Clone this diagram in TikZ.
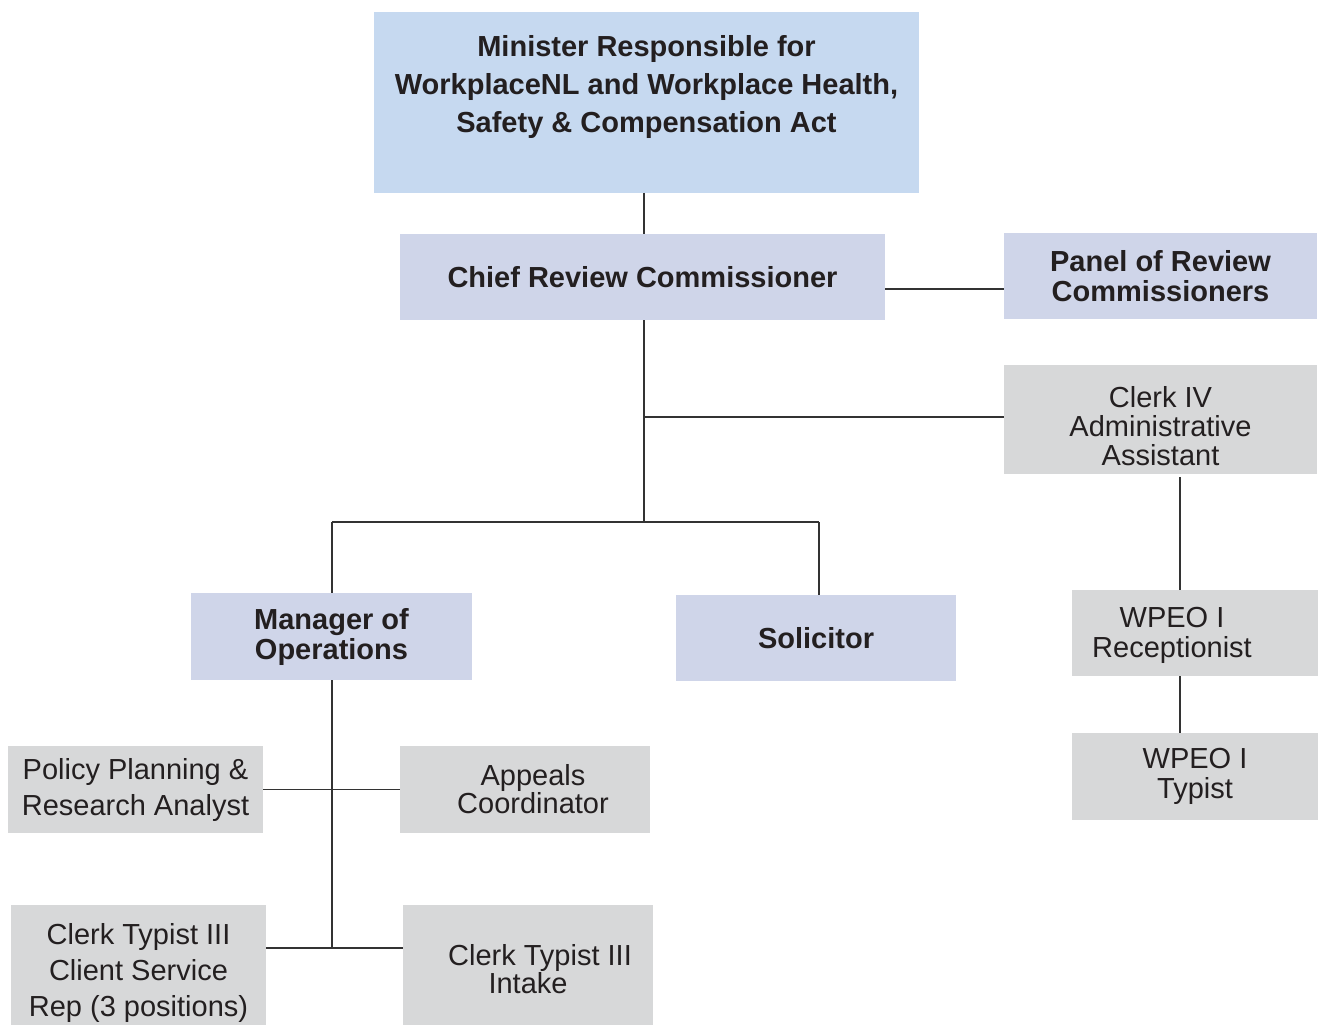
\documentclass[tikz,border=0pt]{standalone}
\usepackage{fontspec}
\setmainfont{Liberation Sans}
\usetikzlibrary{positioning}
\definecolor{minblue}{HTML}{C6D9F0}
\definecolor{lav}{HTML}{CFD5E9}
\definecolor{gry}{HTML}{D7D8D9}
\definecolor{ink}{HTML}{231F20}

\begin{document}
\begin{tikzpicture}[x=1pt,y=-1pt,text=ink,
  box/.style={inner sep=0pt,outer sep=0pt,align=center,font=\fontsize{29}{30}\selectfont},
  b/.style={box,fill=lav,font=\fontsize{29}{30}\selectfont\bfseries},
  g/.style={box,fill=gry},
  ln/.style={draw=black!80,line width=1.1pt}]
\useasboundingbox (0,0) rectangle (1319,1027);

% top of the chart
\node[box,fill=minblue,minimum width=545,minimum height=181,
  label={[align=center,yshift=15pt,font=\fontsize{29}{38}\selectfont\bfseries]center:Minister Responsible for\\WorkplaceNL and Workplace Health,\\Safety \& Compensation Act}]
  (min) at (646.5,102.5) {};
\node[b,minimum width=485,minimum height=86] (chief) at (642.5,277) {Chief Review Commissioner};
\node[b,minimum width=313,minimum height=86] (panel) at (1160.5,276) {Panel of Review\\Commissioners};

% right column
\node[g,minimum width=313,minimum height=109,
  label={[align=center,yshift=-7pt,font=\fontsize{29}{29}\selectfont]center:Clerk IV\\Administrative\\Assistant}]
  (clerk) at (1160.5,419.5) {};
\node[g,minimum width=246,minimum height=86,
  label={[align=center,xshift=-23pt,yshift=-2pt,font=\fontsize{29}{30}\selectfont]center:WPEO I\\Receptionist}]
  (recept) at (1195,633) {};
\node[g,minimum width=246,minimum height=87] (typist) at (1195,776.5) {WPEO I\\Typist};

% second level
\node[b,minimum width=281,minimum height=87] (mgr) at (331.5,636.5) {Manager of\\Operations};
\node[b,minimum width=280,minimum height=86] (sol) at (816,638) {Solicitor};

% operations staff
\node[g,minimum width=255,minimum height=87,font=\fontsize{29}{36}\selectfont] (policy) at (135.5,789.5) {Policy Planning \&\\Research Analyst};
\node[g,minimum width=250,minimum height=87,font=\fontsize{29}{26}\selectfont] (appeals) at (525,789.5) {\hspace*{16pt}Appeals\\\hspace*{16pt}Coordinator};
\node[g,minimum width=255,minimum height=120,
  label={[align=center,yshift=-8pt,font=\fontsize{29}{36}\selectfont]center:Clerk Typist III\\Client Service\\Rep (3 positions)}]
  (client) at (138.5,965) {};
\node[g,minimum width=250,minimum height=120,
  label={[align=center,yshift=-4pt,font=\fontsize{29}{26}\selectfont]center:\hspace*{24pt}Clerk Typist III\\Intake}]
  (intake) at (528,965) {};

% junctions
\coordinate (spine) at (644,522);
\coordinate (tap) at (644,417);
\coordinate (bar l) at (332,522);
\coordinate (bar r) at (819,522);
\coordinate (low) at (332,948);

\draw[ln] (min.south -| spine) -- (chief.north -| spine);
\draw[ln] ([yshift=-12pt]chief.east) -- ([yshift=-12pt]chief.east -| panel.west);
\draw[ln] (chief.south -| spine) -- (spine);
\draw[ln] (tap) -- (tap -| clerk.west);
\draw[ln] (bar l) -- (bar r);
\draw[ln] (bar l) -- (mgr.north -| bar l);
\draw[ln] (bar r) -- (sol.north -| bar r);
\draw[ln] (mgr.south -| low) -- (low);
\draw[ln] (policy.east) -- (appeals.west);
\draw[ln] (low -| client.east) -- (low -| intake.west);
\draw[ln] ([yshift=-3pt]clerk.south -| 1180,0) -- (recept.north -| 1180,0);
\draw[ln] (recept.south -| 1180,0) -- (typist.north -| 1180,0);
\end{tikzpicture}
\end{document}
